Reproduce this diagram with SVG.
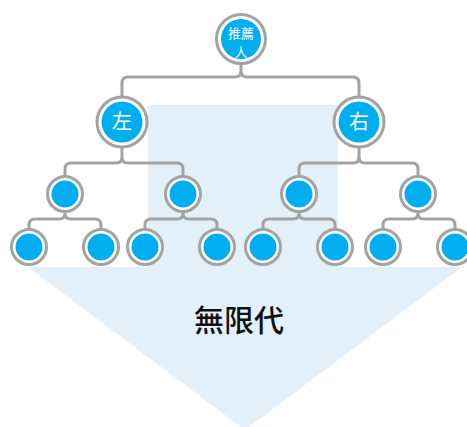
<svg xmlns="http://www.w3.org/2000/svg" width="467" height="427" viewBox="0 0 467 427">
<style>
.bg{fill:#e3f0fa}
.ring{fill:#ffffff;stroke:#a3a3a3;stroke-width:3}
.dot{fill:#00aeef}
.conn{fill:none;stroke:#a3a3a3;stroke-width:3;stroke-linejoin:round}
.wt{fill:#ffffff;font-family:"Noto Sans CJK TC","Noto Sans CJK SC",sans-serif;text-anchor:middle}
.bt{fill:#111111;font-family:"Noto Sans CJK TC","Noto Sans CJK SC",sans-serif;text-anchor:middle;font-size:30px;font-weight:500}
</style>
<rect width="467" height="427" fill="#ffffff"/>
<g id="arrow-bg">
<rect class="bg" x="148" y="105" width="190" height="163"/>
<polygon class="bg" points="28,267 462,267 245,430"/>
</g>
<g id="connectors">
<path class="conn" d="M122,97 V83 Q122,77 128,77 H235 Q241,77 241,71 V64 M359,97 V83 Q359,77 353,77 H247 Q241,77 241,71"/>
<path class="conn" d="M65,178 V169 Q65,163 71,163 H116 Q122,163 122,157 V147 M183,178 V169 Q183,163 177,163 H128 Q122,163 122,157"/>
<path class="conn" d="M299,178 V169 Q299,163 305,163 H353 Q359,163 359,157 V147 M418,178 V169 Q418,163 412,163 H365 Q359,163 359,157"/>
<path class="conn" d="M29,232 V225 Q29,219 35,219 H59 Q65,219 65,213 V210 M101,232 V225 Q101,219 95,219 H71 Q65,219 65,213"/>
<path class="conn" d="M145,232 V225 Q145,219 151,219 H177 Q183,219 183,213 V210 M217,232 V225 Q217,219 211,219 H189 Q183,219 183,213"/>
<path class="conn" d="M263,232 V225 Q263,219 269,219 H293 Q299,219 299,213 V210 M335,232 V225 Q335,219 329,219 H305 Q299,219 299,213"/>
<path class="conn" d="M383,232 V225 Q383,219 389,219 H412 Q418,219 418,213 V210 M455,232 V225 Q455,219 449,219 H424 Q418,219 418,213"/>
</g>
<g id="n-top"><circle class="ring" cx="241" cy="39" r="24.5"/><circle class="dot" cx="241" cy="39" r="20"/>
<text class="wt" x="241" y="38" font-size="13">推薦</text><text class="wt" x="241" y="57" font-size="13">人</text></g>
<g id="n-left"><circle class="ring" cx="122" cy="122" r="25"/><circle class="dot" cx="122" cy="122" r="20.5"/><text class="wt" x="122" y="129" font-size="20">左</text></g>
<g id="n-right"><circle class="ring" cx="359" cy="122" r="25"/><circle class="dot" cx="359" cy="122" r="20.5"/><text class="wt" x="359" y="129" font-size="20">右</text></g>
<g id="n-l1"><circle class="ring" cx="65" cy="194" r="17.5"/><circle class="dot" cx="65" cy="194" r="13.5"/></g>
<g id="n-l2"><circle class="ring" cx="183" cy="194" r="17.5"/><circle class="dot" cx="183" cy="194" r="13.5"/></g>
<g id="n-r1"><circle class="ring" cx="299" cy="194" r="17.5"/><circle class="dot" cx="299" cy="194" r="13.5"/></g>
<g id="n-r2"><circle class="ring" cx="418" cy="194" r="17.5"/><circle class="dot" cx="418" cy="194" r="13.5"/></g>
<g id="n-a"><circle class="ring" cx="29" cy="247" r="17.5"/><circle class="dot" cx="29" cy="247" r="13.5"/></g>
<g id="n-b"><circle class="ring" cx="101" cy="247" r="17.5"/><circle class="dot" cx="101" cy="247" r="13.5"/></g>
<g id="n-c"><circle class="ring" cx="145" cy="247" r="17.5"/><circle class="dot" cx="145" cy="247" r="13.5"/></g>
<g id="n-d"><circle class="ring" cx="217" cy="247" r="17.5"/><circle class="dot" cx="217" cy="247" r="13.5"/></g>
<g id="n-e"><circle class="ring" cx="263" cy="247" r="17.5"/><circle class="dot" cx="263" cy="247" r="13.5"/></g>
<g id="n-f"><circle class="ring" cx="335" cy="247" r="17.5"/><circle class="dot" cx="335" cy="247" r="13.5"/></g>
<g id="n-g"><circle class="ring" cx="383" cy="247" r="17.5"/><circle class="dot" cx="383" cy="247" r="13.5"/></g>
<g id="n-h"><circle class="ring" cx="455" cy="247" r="17.5"/><circle class="dot" cx="455" cy="247" r="13.5"/></g>
<text class="bt" x="239" y="331">無限代</text>
</svg>
